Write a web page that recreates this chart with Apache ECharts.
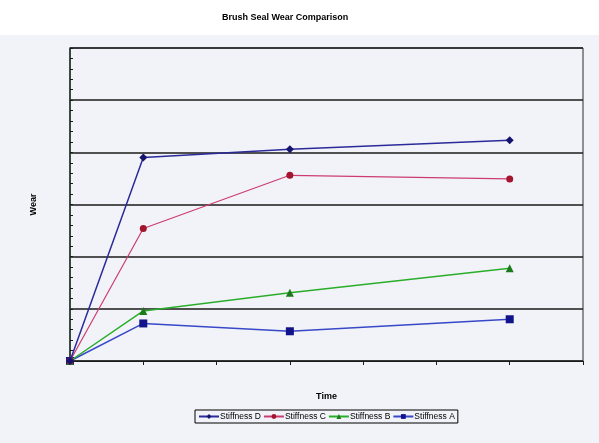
<!DOCTYPE html>
<html>
<head>
<meta charset="utf-8">
<script src="https://cdn.jsdelivr.net/npm/echarts@6/dist/echarts.min.js"></script>
<style>
  html, body { margin: 0; padding: 0; background: #fff; }
  #chart { width: 599px; height: 443px; }
</style>
</head>
<body>
<div id="chart"></div>
<script>
// time points (x) and wear readings, in gridline units
var timePoints = [0, 1, 3, 6];
var stiffD = [0, 3.9, 4.06, 4.23];
var stiffC = [0, 2.54, 3.56, 3.49];
var stiffB = [0, 0.96, 1.31, 1.78];
var stiffA = [0, 0.72, 0.57, 0.8];

function pairs(vals) {
  return timePoints.map(function (t, i) { return [t, vals[i]]; });
}

var chart = echarts.init(document.getElementById("chart"));

var option = {
  backgroundColor: "#ffffff",
  textStyle: { fontFamily: "Liberation Sans, Arial, sans-serif" },
  graphic: [
    {
      type: "rect",
      z: -10,
      shape: { x: 0, y: 35, width: 599, height: 408 },
      style: { fill: "#f2f3f8" },
    },
  ],
  title: {
    text: "Brush Seal Wear Comparison",
    left: 217,
    top: 8,
    textStyle: { fontSize: 9, fontWeight: "bold", color: "#000" },
  },
  grid: {
    left: 70,
    right: 16,
    top: 48,
    bottom: 82,
    show: true,
    borderColor: "#2a2a2a",
    borderWidth: 1,
    backgroundColor: "transparent",
  },
  legend: {
    left: 195,
    top: 410,
    itemGap: 2,
    itemWidth: 20,
    itemHeight: 6,
    padding: [2, 3],
    borderColor: "#000",
    borderWidth: 1,
    textStyle: { fontSize: 8.5, color: "#000", padding: [0, 0, 0, -4] },
    data: ["Stiffness D", "Stiffness C", "Stiffness B", "Stiffness A"],
  },
  xAxis: {
    type: "value",
    min: 0,
    max: 7,
    interval: 1,
    name: "Time",
    nameLocation: "middle",
    nameGap: 31,
    nameTextStyle: { fontSize: 9, fontWeight: "bold", color: "#000" },
    axisLine: { show: true, lineStyle: { color: "#1a1a1a", width: 1 } },
    axisTick: { show: true, length: 4, lineStyle: { color: "#1a1a1a" } },
    axisLabel: { show: false },
    splitLine: { show: false },
  },
  yAxis: {
    type: "value",
    min: 0,
    max: 6,
    interval: 1,
    name: "Wear",
    nameLocation: "middle",
    nameRotate: 90,
    nameGap: 32,
    nameTextStyle: { fontSize: 9, fontWeight: "bold", color: "#000" },
    axisLine: { show: true, lineStyle: { color: "#1f3326", width: 1.5 } },
    axisTick: { show: true, inside: true, length: 3, lineStyle: { color: "#1a1a1a" } },
    minorTick: { show: true, splitNumber: 5, length: 3, lineStyle: { color: "#1a1a1a" } },
    axisLabel: { show: false },
    splitLine: { show: true, lineStyle: { color: "#1a1a1a", width: 1.5 } },
  },
  series: [
    {
      name: "Stiffness D",
      type: "line",
      data: pairs(stiffD),
      symbol: "diamond",
      symbolSize: 8,
      lineStyle: { color: "#2a2a9a", width: 1.5 },
      itemStyle: { color: "#14146e" },
      z: 5,
    },
    {
      name: "Stiffness C",
      type: "line",
      data: pairs(stiffC),
      symbol: "circle",
      symbolSize: 7,
      lineStyle: { color: "#cc3c72", width: 1.2 },
      itemStyle: { color: "#a3142e" },
      z: 4,
    },
    {
      name: "Stiffness B",
      type: "line",
      data: pairs(stiffB),
      symbol: "triangle",
      symbolSize: 8,
      lineStyle: { color: "#2aae2a", width: 1.5 },
      itemStyle: { color: "#1b7a1b" },
      z: 3,
    },
    {
      name: "Stiffness A",
      type: "line",
      data: pairs(stiffA),
      symbol: "rect",
      symbolSize: 8,
      lineStyle: { color: "#3848c8", width: 1.5 },
      itemStyle: { color: "#12128a" },
      z: 2,
    },
  ],
};

chart.setOption(option);
</script>
</body>
</html>
